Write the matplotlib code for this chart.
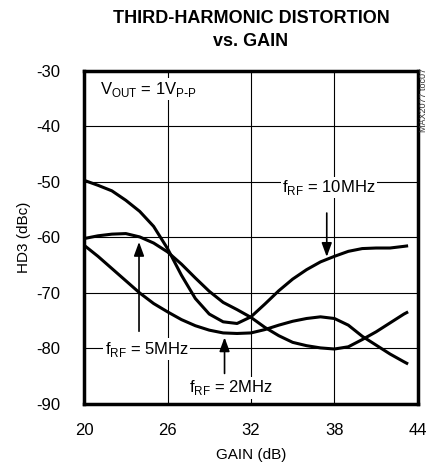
import matplotlib
matplotlib.use("Agg")
import matplotlib.pyplot as plt
import numpy as np

plt.rcParams['font.family'] = ['Liberation Sans Narrow', 'Liberation Sans', 'DejaVu Sans']

gain = [20, 21, 22, 23, 24, 25, 26, 27, 28, 29, 30, 31, 32, 33, 34, 35, 36,
        37, 38, 39, 40, 41, 42, 43, 43.3]
hd3_10mhz = [-49.7, -50.6, -51.6, -53.3, -55.3, -58, -62, -66.8, -71, -73.8,
             -75.2, -75.5, -74.3, -72, -69.6, -67.5, -65.8, -64.4, -63.4, -62.5,
             -62, -61.9, -61.9, -61.6, -61.5]
hd3_5mhz = [-60.2, -59.7, -59.4, -59.3, -59.9, -61, -62.6, -64.8, -67.3, -69.7,
            -71.7, -73, -74.4, -76.2, -77.7, -78.9, -79.5, -79.9, -80.1, -79.7,
            -78.4, -77, -75.4, -73.8, -73.4]
hd3_2mhz = [-61.4, -63.4, -65.6, -67.8, -70, -71.9, -73.4, -74.8, -75.9, -76.7,
            -77.2, -77.3, -77.2, -76.6, -75.8, -75.1, -74.6, -74.3, -74.6, -75.8,
            -77.8, -79.4, -81, -82.4, -82.8]

xticks = [20, 26, 32, 38, 44]
yticks = [-90, -80, -70, -60, -50, -40, -30]

fig = plt.figure(figsize=(4.29, 4.67), dpi=100)
ax = fig.add_axes([0.196, 0.135, 0.778, 0.713])

for y in (hd3_10mhz, hd3_5mhz, hd3_2mhz):
    ax.plot(gain, y, color='black', lw=2.2, zorder=3,
            solid_capstyle='butt', solid_joinstyle='round')

ax.set_xlim(20, 44)
ax.set_ylim(-90, -30)
ax.set_xticks(xticks)
ax.set_yticks(yticks)
ax.set_xticklabels([str(t) for t in xticks])
ax.set_yticklabels([str(t) for t in yticks])
ax.tick_params(length=0, labelsize=12, pad=14)
ax.tick_params(axis='y', pad=17)
ax.grid(True, color='black', lw=0.8)
for s in ax.spines.values():
    s.set_linewidth(2.5)

ax.set_xlabel('GAIN (dB)', fontsize=11, labelpad=7)
ax.set_ylabel('HD3 (dBc)', fontsize=11, labelpad=4)
fig.suptitle('THIRD-HARMONIC DISTORTION\nvs. GAIN', x=0.585, y=0.978,
             fontsize=13, fontweight='bold', linespacing=1.45)

box = dict(facecolor='white', edgecolor='none', pad=1)
ax.text(21.15, -33.3, r'V$_{\mathregular{OUT}}$ = 1V$_{\mathregular{P\text{-}P}}$',
        fontsize=12, va='center', ha='left', bbox=box, zorder=4)
ax.text(37.6, -51, r'f$_{\mathregular{RF}}$ = 10MHz', fontsize=12,
        ha='center', va='center', bbox=box, zorder=4)
ax.text(24.5, -80.1, r'f$_{\mathregular{RF}}$ = 5MHz', fontsize=12,
        ha='center', va='center', bbox=box, zorder=4)
ax.text(30.6, -87.1, r'f$_{\mathregular{RF}}$ = 2MHz', fontsize=12,
        ha='center', va='center', bbox=box, zorder=4)

arrow = dict(arrowstyle='-|>,head_length=0.6,head_width=0.22', color='black',
             lw=1.2, mutation_scale=14)
ax.annotate('', xy=(37.45, -64.0), xytext=(37.45, -55.1), arrowprops=arrow, zorder=5)
ax.annotate('', xy=(23.95, -60.3), xytext=(23.95, -77.4), arrowprops=arrow, zorder=5)
ax.annotate('', xy=(30.1, -77.5), xytext=(30.1, -85), arrowprops=arrow, zorder=5)

fig.text(0.998, 0.855, 'MAX2077 toc07', rotation=90, fontsize=6.5,
         color='#333333', ha='right', va='top')

fig.savefig('out.png', dpi=100)
